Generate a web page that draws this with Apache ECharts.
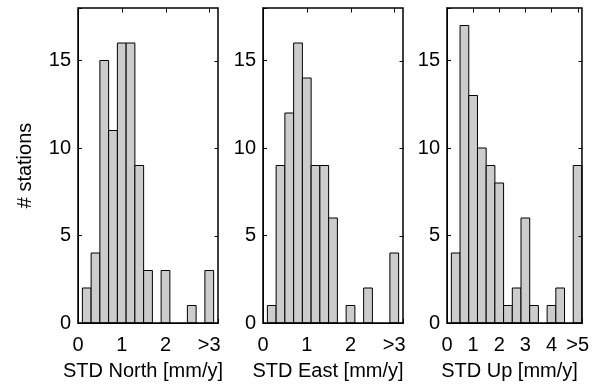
<!DOCTYPE html>
<html>
<head>
<meta charset="utf-8">
<style>
  html, body { margin: 0; padding: 0; background: #fff; }
  #chart { width: 592px; height: 387px; }
</style>
<script src="https://cdn.jsdelivr.net/npm/echarts@6/dist/echarts.min.js"></script>
</head>
<body>
<div id="chart"></div>
<script>
// ---- data ----
const centersNorth = [0.2, 0.4, 0.6, 0.8, 1.0, 1.2, 1.4, 1.6, 1.8, 2.0, 2.2, 2.4, 2.6, 2.8, 3.0];
const countsNorth  = [2, 4, 15, 11, 16, 16, 9, 3, 0, 3, 0, 0, 1, 0, 3];

const centersEast  = [0.2, 0.4, 0.6, 0.8, 1.0, 1.2, 1.4, 1.6, 1.8, 2.0, 2.2, 2.4, 2.6, 2.8, 3.0];
const countsEast   = [1, 9, 12, 16, 14, 9, 9, 6, 0, 1, 0, 2, 0, 0, 4];

const centersUp    = [0.3333, 0.6667, 1.0, 1.3333, 1.6667, 2.0, 2.3333, 2.6667, 3.0, 3.3333, 3.6667, 4.0, 4.3333, 4.6667, 5.0];
const countsUp     = [4, 17, 13, 10, 9, 8, 1, 2, 6, 1, 0, 1, 2, 0, 9];

const ticksNorth = ['0', '1', '2', '>3'];
const ticksEast  = ['0', '1', '2', '>3'];
const ticksUp    = ['0', '1', '2', '3', '4', '>5'];
const yTicks     = [0, 5, 10, 15];

const xNames = ['STD North [mm/y]', 'STD East [mm/y]', 'STD Up [mm/y]'];
const yName  = '# stations';

// ---- chart ----
const FONT = 'Liberation Sans, Arial, sans-serif';
const FS = 20;
const YMAX = 18;
const TICK = 4;
const panels = [
  { centers: centersNorth, counts: countsNorth, ticks: ticksNorth, xmax: 3.2,    grid: { left: 78,  width: 140 } },
  { centers: centersEast,  counts: countsEast,  ticks: ticksEast,  xmax: 3.2,    grid: { left: 263, width: 140 } },
  { centers: centersUp,    counts: countsUp,    ticks: ticksUp,    xmax: 5.1667, grid: { left: 447, width: 139 } }
];

const grids = [], xAxes = [], yAxes = [], series = [];
const mkTick = () => ({ show: true, inside: true, length: TICK, lineStyle: { color: '#000', width: 1 } });
const mkLine = () => ({ show: true, onZero: false, lineStyle: { color: '#000', width: 1 } });
const crisp = v => Math.round(v) + 0.5;

panels.forEach((p, i) => {
  grids.push({ left: p.grid.left, width: p.grid.width, top: 8, height: 315,
               show: true, borderColor: '#000000', borderWidth: 1.5, z: 10 });
  xAxes.push({
    type: 'value', gridIndex: i, min: 0, max: p.xmax, interval: 1, position: 'bottom',
    axisLine: mkLine(), axisTick: mkTick(), splitLine: { show: false },
    axisLabel: { color: '#000', fontFamily: FONT, fontSize: FS, margin: 12,
      formatter: v => (Math.abs(v - Math.round(v)) < 1e-6 && p.ticks[Math.round(v)] !== undefined) ? p.ticks[Math.round(v)] : '' },
    name: xNames[i], nameLocation: 'middle', nameGap: 38,
    nameTextStyle: { color: '#000', fontFamily: FONT, fontSize: FS, padding: [0, 10, 0, 0] }
  });
  yAxes.push({
    type: 'value', gridIndex: i, min: 0, max: YMAX, interval: 5, position: 'left',
    axisLine: mkLine(), axisTick: mkTick(), splitLine: { show: false },
    axisLabel: { color: '#000', fontFamily: FONT, fontSize: FS, margin: 7,
      formatter: v => yTicks.indexOf(v) >= 0 ? String(v) : '' },
    name: i === 0 ? yName : '', nameLocation: 'middle', nameGap: 43,
    nameTextStyle: { color: '#000', fontFamily: FONT, fontSize: FS }
  });

  // histogram bars
  const binW = p.centers[1] - p.centers[0];
  series.push({
    type: 'custom', xAxisIndex: i, yAxisIndex: i,
    data: p.centers.map((c, k) => [c, p.counts[k]]),
    renderItem: (params, api) => {
      const c = api.value(0), n = api.value(1);
      if (!n) return null;
      const a = api.coord([c - binW / 2, n]);
      const b = api.coord([c + binW / 2, 0]);
      return { type: 'rect', shape: { x: a[0], y: a[1], width: b[0] - a[0], height: b[1] - a[1] },
               style: { fill: '#cccccc', stroke: '#000', lineWidth: 1 } };
    },
    silent: true, animation: false, z: 2
  });

  // top and right inward ticks, derived from the axis scales
  series.push({
    type: 'custom', xAxisIndex: i, yAxisIndex: i, clip: false,
    data: [[0, 0]],
    renderItem: (params, api) => {
      const tl = api.coord([0, YMAX]);
      const br = api.coord([p.xmax, 0]);
      const y0 = crisp(tl[1]), x1 = crisp(br[0]);
      const children = [];
      p.ticks.forEach((t, v) => {
        const x = crisp(api.coord([v, YMAX])[0]);
        children.push({ type: 'line', shape: { x1: x, y1: y0, x2: x, y2: y0 + TICK },
                        style: { stroke: '#000000', lineWidth: 1 } });
      });
      yTicks.forEach(t => {
        const y = crisp(api.coord([p.xmax, t])[1]);
        children.push({ type: 'line', shape: { x1: x1, y1: y, x2: x1 - TICK, y2: y },
                        style: { stroke: '#000000', lineWidth: 1 } });
      });
      return { type: 'group', children: children };
    },
    silent: true, animation: false, z: 5
  });
});

const chart = echarts.init(document.getElementById('chart'));
chart.setOption({
  backgroundColor: '#fff', animation: false,
  grid: grids, xAxis: xAxes, yAxis: yAxes, series: series
});
</script>
</body>
</html>
